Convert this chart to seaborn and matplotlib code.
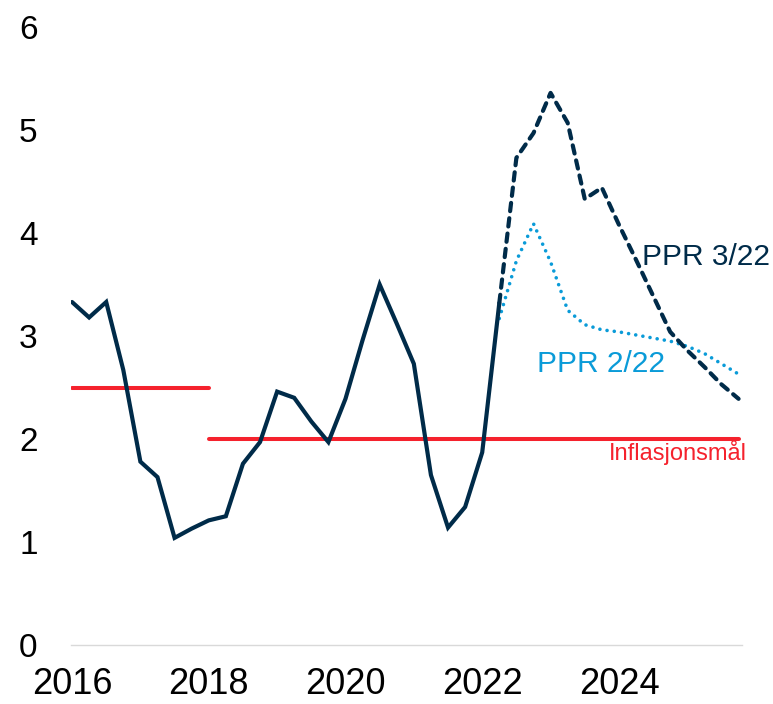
import numpy as np
import pandas as pd
import matplotlib
matplotlib.use("Agg")
import matplotlib.pyplot as plt
import seaborn as sns

# quarterly positions 2016Q1 .. 2025Q4 as decimal years
years = [y + q / 4 for y in range(2016, 2026) for q in range(4)]

# KPI-JAE, observed (2016Q1 - 2022Q2)
actual = [3.33, 3.18, 3.33, 2.67, 1.78, 1.63, 1.04, 1.13, 1.21, 1.25,
          1.76, 1.97, 2.46, 2.40, 2.17, 1.97, 2.39, 2.96, 3.50, 3.12,
          2.73, 1.65, 1.14, 1.34, 1.87, 3.32]

# forecasts from 2022Q2
ppr_3_22 = [3.32, 4.73, 4.97, 5.36, 5.07, 4.33, 4.44, 4.08, 3.74, 3.39,
            3.04, 2.86, 2.70, 2.53, 2.39]
ppr_2_22 = [3.17, 3.73, 4.09, 3.72, 3.25, 3.11, 3.06, 3.04, 3.01, 2.98,
            2.95, 2.90, 2.83, 2.73, 2.63]

# inflation target
target_old = [2.5] * 9        # 2016Q1 - 2018Q1
target_new = [2.0] * 32       # 2018Q1 - 2025Q4

navy = "#002B49"
blue = "#0A9BD8"
red = "#F5222D"

sns.set_theme(style="white")
plt.rcParams['font.family'] = ['Liberation Sans', 'DejaVu Sans']

fig = plt.figure(figsize=(7.73, 7.04), dpi=100)
ax = fig.add_axes([71 / 773, 1 - 645 / 704, (742 - 71) / 773, (645 - 27) / 704])

n_act = len(actual)
df_act = pd.DataFrame({"x": years[:n_act], "y": actual})
df_f3 = pd.DataFrame({"x": years[n_act - 1:], "y": ppr_3_22})
df_f2 = pd.DataFrame({"x": years[n_act - 1:], "y": ppr_2_22})
df_t1 = pd.DataFrame({"x": years[:9], "y": target_old})
df_t2 = pd.DataFrame({"x": years[8:], "y": target_new})

sns.lineplot(data=df_t1, x="x", y="y", ax=ax, color=red, linewidth=2.9,
             solid_capstyle="round")
sns.lineplot(data=df_t2, x="x", y="y", ax=ax, color=red, linewidth=2.9,
             solid_capstyle="round")
sns.lineplot(data=df_f2, x="x", y="y", ax=ax, color=blue, linewidth=2.6,
             linestyle=(0, (0.01, 2.0)), dash_capstyle="round")
sns.lineplot(data=df_f3, x="x", y="y", ax=ax, color=navy, linewidth=3.0,
             linestyle=(0, (2.0, 1.7)), dash_capstyle="round")
sns.lineplot(data=df_act, x="x", y="y", ax=ax, color=navy, linewidth=3.0,
             solid_capstyle="round", solid_joinstyle="miter")

ax.text(2024.33, 3.77, "PPR 3/22", color=navy, fontsize=21.5, va="center", ha="left")
ax.text(2022.80, 2.73, "PPR 2/22", color=blue, fontsize=21.5, va="center", ha="left")
ax.text(2025.87, 1.87, "Inflasjonsmål", color=red, fontsize=17, va="center", ha="right")

ax.set_xlim(2015.985, 2025.80)
ax.set_ylim(0, 6)
ax.set_xticks([2016, 2018, 2020, 2022, 2024])
ax.set_xticklabels(["2016", "2018", "2020", "2022", "2024"])
ax.set_yticks(range(0, 7))
ax.set_xlabel("")
ax.set_ylabel("")

for s in ["top", "right", "left"]:
    ax.spines[s].set_visible(False)
ax.spines["bottom"].set_color("#d9d9d9")
ax.spines["bottom"].set_linewidth(1)

ax.tick_params(axis="y", length=0, pad=24, labelsize=24, colors="black")
ax.tick_params(axis="x", length=0, pad=16, labelsize=26, colors="black")
ax.grid(False)

fig.savefig("out.png", dpi=100)
